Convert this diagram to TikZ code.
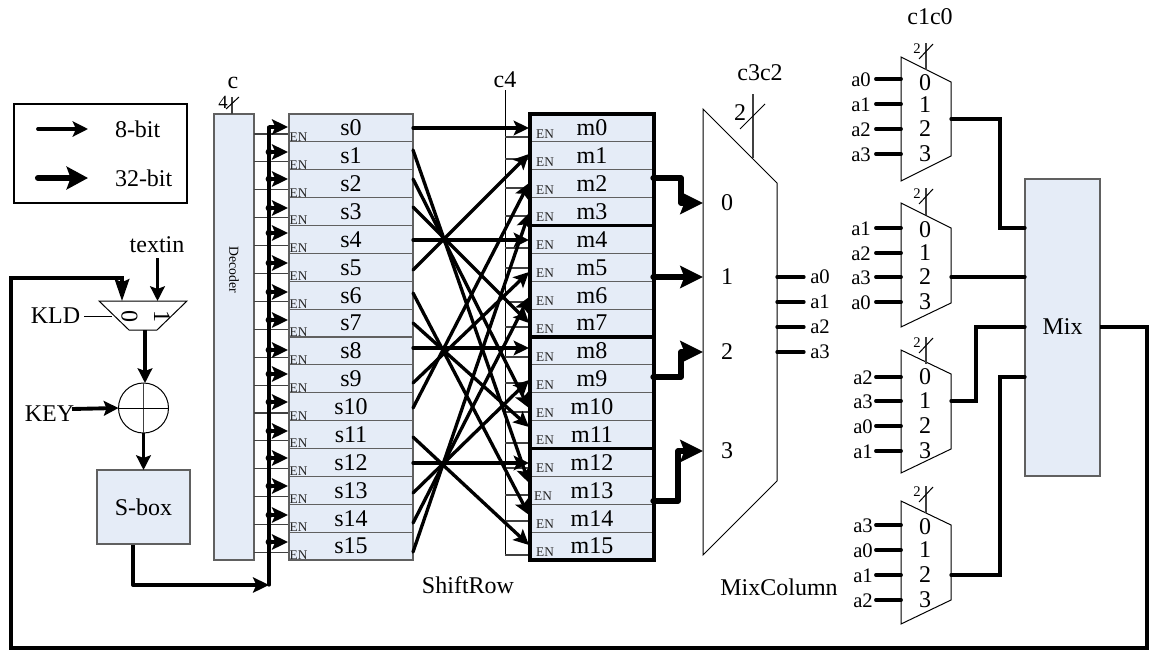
\documentclass[tikz,border=0pt]{standalone}
\usepackage{fontspec}
\setmainfont{Liberation Serif}
\usetikzlibrary{arrows.meta,calc}
\definecolor{regfill}{HTML}{E5ECF7}
\definecolor{reggray}{HTML}{606060}
\newcommand\fsbig{\fontsize{18}{20}\selectfont}
\newcommand\fsa{\fontsize{15.5}{17}\selectfont}
\newcommand\fsen{\fontsize{10}{11}\selectfont}
\newcommand\fstwo{\fontsize{11}{12}\selectfont}
\tikzset{
  txt/.style={inner sep=0pt,outer sep=0pt,font=\fsbig},
  regbox/.style={draw=reggray,fill=regfill,line width=.8pt,inner sep=0pt,outer sep=0pt,font=\fsbig,anchor=north west,minimum width=93pt,minimum height=20.906pt},
  blockbox/.style={draw=reggray,fill=regfill,line width=.8pt,inner sep=0pt,outer sep=0pt,font=\fsbig,anchor=north west},
  frame/.style={draw=black,line width=2.4pt,inner sep=0pt,outer sep=0pt,anchor=north west},
  thin line/.style={line width=.75pt,draw=black},
  gray line/.style={line width=.8pt,draw=black!75},
  wire/.style={line width=2.5pt,line cap=round,line join=miter},
  inwire/.style={line width=2.9pt,line cap=round},
  arrowwire/.style={wire,-{Stealth[length=11.5pt,width=11pt,inset=2.5pt]}},
  bigwire/.style={line width=4pt,line cap=round,line join=round,-{Stealth[length=17pt,width=16.5pt,inset=3pt]}},
  midarrow/.style={line width=2.9pt,-{Stealth[length=11pt,width=11pt,inset=2pt]}},
  busarrow/.style={line width=2.5pt,-{Stealth[length=12pt,width=11.5pt,inset=2.5pt]}},
  legendthin/.style={line width=2.8pt,line cap=round,-{Stealth[length=11.5pt,width=11.5pt,inset=2.5pt]}},
  muxshape/.style={draw=black,line width=.75pt,fill=white,line join=miter},
  outwire/.style={line width=2.5pt,line cap=round,line join=miter},
}
\newcommand\smux[8]{%
  \draw[muxshape] (901,#2) -- (951,#3) -- (951,#4) -- (901,#5) -- cycle;
  \coordinate (#1top) at (926,#6+27);
  \coordinate (#1tick) at (926,#6);
  \coordinate (#1sa) at (919,#6+16);
  \coordinate (#1sb) at (933,#6+1);
  \draw[gray line] (#1tick) -- (#1top);
  \draw[thin line] (#1sa) -- (#1sb);
  \node[txt,font=\fstwo] (#1two) at (917,#6+6) {2};
  \foreach \k/\y/\lab/\dy in {#8} {
    \coordinate (#1p\k) at (901,\y);
    \coordinate (#1i\k) at (876,\y);
    \draw[inwire] (#1i\k) -- (#1p\k);
    \node[txt,font=\fsa] (#1l\k) at (#7,\y+1) {\lab};
    \node[txt] (#1d\k) at (925,\dy) {\k};
  }
}
\begin{document}
\begin{tikzpicture}[x=.75pt,y=-.75pt]
\useasboundingbox (0,0) rectangle (1152,650);
\fill[white] (0,0) rectangle (1152,650);

% legend
\node[draw=black,line width=.8pt,anchor=north west,inner sep=0pt,outer sep=0pt,minimum width=129.75pt,minimum height=74.25pt] (legend) at (14,104) {};
\coordinate (la) at (38,129); \coordinate (lb) at (88,129);
\coordinate (lc) at (38,178); \coordinate (ld) at (88,178);
\draw[legendthin] (la) -- (lb);
\draw[line width=4.6pt,line cap=round,-{Stealth[length=16pt,width=17pt,inset=3pt]}] (lc) -- (ld);
\node[txt,anchor=west] (l8) at (115,129) {8-bit};
\node[txt,anchor=west] (l32) at (115,178) {32-bit};

% c4 selector
\coordinate (c4top) at (505,90); \coordinate (c4bot) at (505,555);
\draw[thin line] (c4top) -- (c4bot);
\node[txt] (c4lab) at (505,80) {c4};
\foreach \i/\y in {0/137,1/159,2/188,3/216,4/248,5/268,6/302,7/327,8/357,9/383,10/412,11/443,12/468,13/495,14/521,15/555} {
  \coordinate (ca\i) at (505,\y);
  \coordinate (cb\i) at (530,\y);
  \draw[gray line] (ca\i) -- (cb\i);
}

% decoder
\node[blockbox,minimum width=30pt,minimum height=334.5pt] (dec) at (214,114) {};
\node[txt,font=\fontsize{10.3}{11}\selectfont,rotate=-90] (declab) at (234,270) {Decoder};
\coordinate (ctop) at (232,97);
\draw[gray line] (ctop) -- (232,114);
\coordinate (csa) at (226,109); \coordinate (csb) at (239,97);
\draw[thin line] (csa) -- (csb);
\node[txt] (clab) at (233,83) {c};
\node[txt,font=\fontsize{14}{15}\selectfont] (cfour) at (223,102) {4};
\foreach \i in {0,...,15} {
  \pgfmathsetmacro\yy{134+27.9*\i}
  \coordinate (ea\i) at (254,\yy);
  \coordinate (eb\i) at (289,\yy);
  \draw[gray line] (ea\i) -- (eb\i);
}

% s registers
\foreach \i in {0,...,15} {
  \pgfmathsetmacro\yy{114+27.875*\i}
  \node[regbox] (s\i) at (289,\yy) {s\i};
  \node[txt,font=\fsen,text=black!85] (se\i) at (298.5,\yy+23) {EN};
}
% m registers
\foreach \i in {0,...,15} {
  \pgfmathsetmacro\yy{114+27.875*\i}
  \node[regbox] (m\i) at (530,\yy) {m\i};
  \ifnum\i=13
    \node[txt,font=\fsen,text=black!85] (me\i) at (543,\yy+20) {EN};
  \else
    \node[txt,font=\fsen,text=black!85] (me\i) at (545,\yy+20) {EN};
  \fi
}
\node[frame,minimum width=93pt,minimum height=334.5pt] (mframe) at (530,114) {};
\draw[line width=2.4pt] (mframe.west |- m4.north) -- (mframe.east |- m4.north);
\draw[line width=2.4pt] (mframe.west |- m8.north) -- (mframe.east |- m8.north);
\draw[line width=2.4pt] (mframe.west |- m12.north) -- (mframe.east |- m12.north);

% shift row arrows:  source / its y / dest / its y
\foreach \s/\sy/\d/\dy in {0/128/0/128,5/270/1/154,10/408/2/183,15/552/3/213,4/240/4/240,9/383/5/272,14/523/6/297,3/207/7/323,8/348/8/348,13/493/9/380,2/179/10/408,7/323/11/427,12/463/12/463,1/150/13/483,6/293/14/515,11/437/15/545} {
  \coordinate (so\s) at (413,\sy);
  \coordinate (mi\d) at (529,\dy);
  \draw[arrowwire] (so\s) -- (mi\d);
}
\node[txt] (shiftlab) at (468,585) {ShiftRow};

% S-box, xor, KLD mux
\node[blockbox,minimum width=69.75pt,minimum height=55.5pt] (sbox) at (97,470) {S-box};
\draw[thin line] (143.5,408) circle (25);
\coordinate (xt) at (143.5,383); \coordinate (xb) at (143.5,433);
\coordinate (xl) at (118.5,408); \coordinate (xr) at (168.5,408);
\draw[gray line] (xt) -- (xb);
\draw[thin line] (xl) -- (xr);
\draw[muxshape] (99,301) -- (187,301) -- (157,330) -- (129,330) -- cycle;
\node[txt,rotate=-90] (k0) at (129.5,316) {0};
\node[txt,rotate=-90] (k1) at (162,316) {1};
\coordinate (kmout) at (145,330);
\coordinate (sbin) at (145,470);
\coordinate (kmkld) at (112,316);
\coordinate (kmtext) at (157.5,301);
\coordinate (kmfb) at (122,301);
\node[txt] (kld) at (55.5,316) {KLD};
\node[txt] (textin) at (157,245) {textin};
\node[txt] (key) at (49.5,414) {KEY};
\draw[thin line,shorten <=3pt] (kld.east) -- (kmkld);
\draw[midarrow] (157.5,258) -- (kmtext);
\draw[midarrow] (kmout) -- (kmout |- xt);
\draw[midarrow] (xb) -- (sbin -| xb);
\draw[midarrow] (72,409) -- (xl);

% data bus into the s registers
\coordinate (sbout) at (133,545);
\coordinate (bb) at (269,585);
\coordinate (sbcorner) at (133,585);
\draw[busarrow,line join=round] (sbout) -- (sbcorner) -- (bb);
\coordinate (bt) at (269,127);
\draw[line width=2.5pt,line cap=round] (bb) -- (bt);
\foreach \i/\y in {0/127,1/152,2/179,3/208,4/233,5/263,6/292,7/320,8/350,9/374,10/402,11/431,12/458,13/486,14/515,15/542} {
  \coordinate (bd\i) at (269,\y);
  \coordinate (si\i) at (288,\y);
  \draw[busarrow] (bd\i) -- (si\i);
  \ifnum\i>0 \fill (bd\i) circle (3.4); \fi
}

% big mux
\draw[muxshape] (703,109) -- (777,183) -- (777,481) -- (703,555) -- cycle;
\foreach \k/\y in {0/203,1/277,2/352,3/451} {
  \node[txt] (bigd\k) at (727,\y) {\k};
  \coordinate (bigp\k) at (703,\y);
}
\coordinate (ctick) at (753,94); \coordinate (ctickb) at (753,158);
\draw[gray line] (ctick) -- (ctickb);
\draw[thin line] (740,129) -- (765,104);
\node[txt] (c3c2) at (760,73) {c3c2};
\node[txt] (bigtwo) at (740,113) {2};
\draw[bigwire] (653,178) -- (681,178) -- (681,203) -- (bigp0);
\draw[bigwire] (653,277) -- (bigp1);
\draw[bigwire] (653,377) -- (681,377) -- (681,352) -- (bigp2);
\draw[bigwire] (653,501) -- (678,501) -- (678,451) -- (bigp3);
\foreach \k/\y in {0/277,1/302,2/327,3/352} {
  \coordinate (oa\k) at (777,\y);
  \coordinate (ob\k) at (804,\y);
  \draw[wire] (oa\k) -- (ob\k);
  \node[txt,font=\fsa] (ol\k) at (820,\y) {a\k};
}
\node[txt] (mixcol) at (779,587) {MixColumn};

% small muxes
\node[txt] (c1c0) at (930,17) {c1c0};
\smux{A}{57}{82}{156}{181}{43}{861}{0/79/a0/83,1/104/a1/105,2/129/a2/129,3/154/a3/154}
\smux{B}{203}{228}{303}{327}{188}{861}{0/228/a1/230,1/253/a2/253,2/277/a3/277,3/302/a0/302}
\smux{C}{350}{374}{449}{473}{337}{863}{0/377/a2/377,1/401/a3/401,2/426/a0/426,3/451/a1/451}
\smux{D}{501}{525}{600}{624}{486}{863}{0/525/a3/527,1/550/a0/550,2/575/a1/575,3/600/a2/600}

% Mix
\node[blockbox,minimum width=56.25pt,minimum height=222.75pt] (mix) at (1025,179) {};
\node[txt] (mixlab) at (1062.5,327) {Mix};
\draw[outwire] (951,119) -- (1000,119) -- (1000,228) -- (mix.west |- 0,228);
\draw[outwire] (951,277) -- (mix.west |- 0,277);
\draw[outwire] (951,401) -- (976,401) -- (976,327) -- (mix.west |- 0,327);
\draw[outwire] (951,575) -- (1000,575) -- (1000,377) -- (mix.west |- 0,377);

% feedback
\coordinate (fbr) at (1147,327);
\coordinate (fbbr) at (1147,648);
\coordinate (fbbl) at (11,648);
\coordinate (fbtl) at (11,278);
\coordinate (fbtr) at (122,278);
\draw[line width=2.4pt,line join=miter,-{Stealth[length=16.5pt,width=11pt,inset=2.5pt]}] (mix.east |- fbr) -- (fbr) -- (fbbr) -- (fbbl) -- (fbtl) -- (fbtr) -- (kmfb);
\end{tikzpicture}
\end{document}
